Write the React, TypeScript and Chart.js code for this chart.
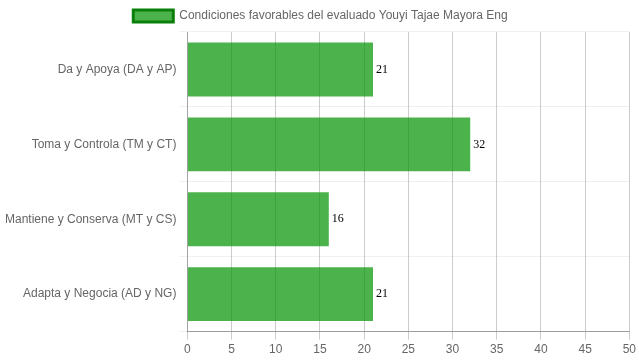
import React, { useEffect, useRef } from "react";
import { Chart, registerables } from "chart.js";

Chart.register(...registerables);

const categories = [
  "Da y Apoya (DA y AP)",
  "Toma y Controla (TM y CT)",
  "Mantiene y Conserva (MT y CS)",
  "Adapta y Negocia (AD y NG)",
];
const values = [21, 32, 16, 21];
const seriesLabel = "Condiciones favorables del evaluado Youyi Tajae Mayora Eng";

const valueLabels = {
  id: "valueLabels",
  afterDatasetsDraw(chart: any) {
    const ctx = chart.ctx;
    const meta = chart.getDatasetMeta(0);
    ctx.save();
    ctx.font = "12px 'Liberation Serif', 'DejaVu Serif', serif";
    ctx.fillStyle = "#000";
    ctx.textAlign = "left";
    ctx.textBaseline = "middle";
    meta.data.forEach((bar: any, i: number) => {
      ctx.fillText(String(chart.data.datasets[0].data[i]), bar.x + 3, bar.y);
    });
    ctx.restore();
  },
};

export default function App() {
  const ref = useRef<HTMLCanvasElement>(null);
  useEffect(() => {
    document.body.style.margin = "0";
    const chart = new Chart(ref.current!, {
      type: "bar",
      data: {
        labels: categories,
        datasets: [
          {
            label: seriesLabel,
            data: values,
            backgroundColor: "rgba(0,145,0,0.7)",
            borderWidth: 0,
          },
        ],
      },
      options: {
        indexAxis: "y",
        animation: false,
        responsive: false,
        layout: { padding: { left: 2, right: 0 } },
        plugins: {
          tooltip: { enabled: false },
          legend: {
            labels: {
              color: "#666",
              font: { family: "'Liberation Sans', Arial, sans-serif", size: 12 },
              boxWidth: 40,
              generateLabels: (chart: any) => [
                {
                  text: seriesLabel,
                  fillStyle: "rgba(0,145,0,0.7)",
                  strokeStyle: "#0a800a",
                  fontColor: "#666",
                  lineWidth: 3,
                  datasetIndex: 0,
                  hidden: false,
                },
              ],
            },
          },
        },
        scales: {
          x: {
            min: 0,
            max: 50,
            ticks: {
              stepSize: 5,
              color: "#666",
              font: { family: "'Liberation Sans', Arial, sans-serif", size: 12 },
            },
            grid: { color: "rgba(0,0,0,0.2)", lineWidth: 1 },
            border: { color: "rgba(0,0,0,0.35)" },
          },
          y: {
            ticks: {
              color: "#666",
              font: { family: "'Liberation Sans', Arial, sans-serif", size: 12 },
            },
            grid: { color: "rgba(0,0,0,0.06)", offset: true },
            border: { color: "rgba(0,0,0,0.2)" },
          },
        },
      },
      plugins: [valueLabels],
    });
    return () => chart.destroy();
  }, []);
  return <canvas ref={ref} width={639} height={360} />;
}
